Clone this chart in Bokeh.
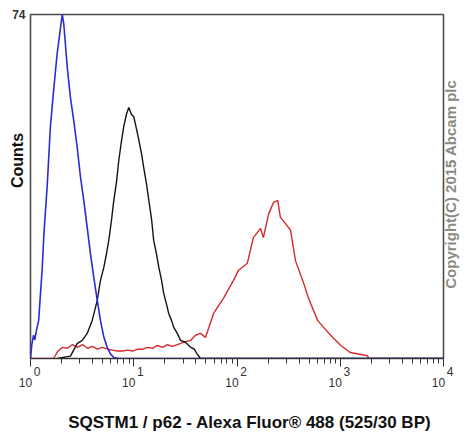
import math
from bokeh.plotting import figure
from bokeh.models import Range1d, FixedTicker, LogAxis, LinearAxis
from bokeh.embed import file_html
from bokeh.resources import INLINE

# ---- data (fluorescence value, counts) ----
blue_x = [1.00, 1.03, 1.07, 1.10, 1.14, 1.20, 1.30, 1.35, 1.45, 1.56, 1.68, 1.81, 1.95, 2.03,
          2.10, 2.27, 2.44, 2.63, 2.83, 3.05, 3.28, 3.54, 3.81, 4.10, 4.43, 4.76, 5.13, 5.53,
          5.95, 6.41, 7.10, 10000]
blue_y = [0, 3.0, 5.0, 4.0, 6.0, 8.2, 19.6, 27, 37, 50, 58, 65.5, 71, 74,
          72, 62.6, 56, 51, 45.5, 39, 34, 28.2, 22.5, 17.5, 12.5, 8.2, 4.6, 2.4,
          1.0, 0.2, 0, 0]

black_x = [1.81, 2.44, 2.83, 3.17, 3.54, 3.96, 4.43, 4.76, 5.13, 5.44, 5.73, 6.09, 6.41, 6.81,
           7.17, 7.61, 8.01, 8.51, 8.96, 9.51, 10.0, 10.6, 11.2, 11.9, 12.5, 13.3, 14.0, 14.9,
           15.6, 16.6, 17.5, 18.6, 19.5, 20.7, 21.8, 23.2, 24.4, 26.4, 28.4, 31.7, 35.5, 38.2,
           41.1, 44.3, 10000]
black_y = [0, 0.5, 3.2, 3.9, 5.4, 8.2, 12.5, 16.8, 19.6, 22.5, 25.4, 29.8, 34, 38,
           42.7, 46.8, 50, 52.6, 54, 52.5, 52, 49.5, 47, 44, 41, 37.5, 34, 29.8,
           25.4, 22.5, 19.6, 16.8, 14, 11.8, 9.7, 8.2, 6.7, 5.4, 3.9, 3.5, 2.4, 2.1,
           1.0, 0, 0]

red_x = [1.00, 1.67, 1.83, 2.04, 2.28, 2.55, 2.85, 3.19, 3.57, 3.98, 4.45, 4.98, 5.57, 6.23,
         6.96, 7.78, 8.70, 9.73, 10.9, 12.2, 13.6, 15.2, 17.0, 19.0, 21.2, 23.7, 26.5, 29.7,
         35.5, 39.6, 44.3, 49.5, 59.3, 74.1, 92.5, 103.6, 126, 144, 169, 180, 202, 226, 248,
         263, 295, 330, 369, 433, 492, 603, 690, 846, 1014, 1248, 1840, 1880, 10000]
red_y = [0, 0, 1.5, 2.4, 2.2, 3.0, 2.4, 3.0, 2.2, 2.6, 2.0, 2.4, 2.0, 1.8,
         1.6, 1.6, 1.8, 1.6, 2.0, 2.0, 2.4, 2.2, 2.8, 2.4, 3.0, 2.6, 3.0, 3.4,
         3.9, 5.0, 5.4, 4.5, 9.7, 13, 16.8, 19, 20.5, 26, 28, 26, 31, 33.6, 34,
         30.4, 29, 27.6, 21, 16.8, 13, 8.2, 6.7, 4.5, 2.8, 1.3, 0.6, 0, 0]

decade_ticks = [1, 10, 100, 1000, 10000]
decade_base = ["10", "10", "10", "10", "10"]
decade_exp = ["0", "1", "2", "3", "4"]
minor_mult = [2, 3, 4, 5, 6, 7, 8, 9]
minor_ticks = [m * d for d in decade_ticks[:-1] for m in minor_mult]

y_max = 74
x_label = "SQSTM1 / p62 - Alexa Fluor\u00ae 488 (525/30 BP)"
y_label = "Counts"
copyright_text = "Copyright(C) 2015 Abcam plc"
copyright_anchor = 15   # count level where the vertical note starts

FONT = "Liberation Sans"
FS = "\u2007"   # figure space (digit wide, not collapsed)
EM = "\u2003"   # em space

p = figure(width=470, height=435, x_axis_type="log",
           x_range=Range1d(1, 10000), y_range=Range1d(0, y_max),
           output_backend="svg", toolbar_location=None,
           min_border_left=30, min_border_right=27, min_border_top=14, min_border_bottom=77)

p.background_fill_color = "white"
p.border_fill_color = "white"
p.xgrid.visible = False
p.ygrid.visible = False
p.outline_line_color = "#4d4d4d"
p.outline_line_width = 1.6

# ---- bottom axis 1: ticks + exponents ----
ax = p.xaxis[0]
ax.ticker = FixedTicker(ticks=decade_ticks, minor_ticks=minor_ticks)
ax.major_tick_in = 0
ax.major_tick_out = 8
ax.minor_tick_in = 0
ax.minor_tick_out = 5
ax.axis_line_color = "#333333"
ax.axis_line_width = 1.2
ax.major_tick_line_color = "#333333"
ax.minor_tick_line_color = "#333333"
ax.major_label_overrides = {t: FS + FS + e for t, e in zip(decade_ticks, decade_exp)}
ax.major_label_standoff = -2
ax.major_label_text_font = FONT
ax.major_label_text_font_size = "12px"
ax.major_label_text_color = "#333333"

# ---- bottom axis 2: the "10" bases and the axis title ----
ax2 = LogAxis(ticker=FixedTicker(ticks=decade_ticks, minor_ticks=[]))
ax2.axis_line_color = None
ax2.major_tick_line_color = None
ax2.minor_tick_line_color = None
ax2.major_tick_out = 0
ax2.major_tick_in = 0
ax2.major_label_overrides = {t: b + FS + "\u2008" for t, b in zip(decade_ticks, decade_base)}
ax2.major_label_standoff = -6
ax2.major_label_text_font = FONT
ax2.major_label_text_font_size = "12px"
ax2.major_label_text_color = "#333333"
ax2.axis_label = EM + "\u2002" + x_label
ax2.axis_label_standoff = 20
ax2.axis_label_text_font = FONT
ax2.axis_label_text_font_size = "17px"
ax2.axis_label_text_font_style = "bold"
ax2.axis_label_text_color = "#111111"
p.add_layout(ax2, "below")

# ---- left axis ----
ay = p.yaxis[0]
ay.ticker = FixedTicker(ticks=[y_max], minor_ticks=[])
ay.axis_line_color = None
ay.major_tick_line_color = None
ay.minor_tick_line_color = None
ay.major_tick_out = 0
ay.major_tick_in = 0
ay.major_label_standoff = 5
ay.major_label_text_font = FONT
ay.major_label_text_font_size = "12px"
ay.major_label_text_font_style = "bold"
ay.major_label_text_color = "#333333"
ay.axis_label = EM + EM + EM + "\u2005" + y_label
ay.axis_label_standoff = -17
ay.axis_label_text_font = FONT
ay.axis_label_text_font_size = "16px"
ay.axis_label_text_font_style = "bold"
ay.axis_label_text_color = "#111111"

# ---- right axis carrying the copyright note ----
ar = LinearAxis(ticker=FixedTicker(ticks=[copyright_anchor], minor_ticks=[]))
ar.axis_line_color = None
ar.major_tick_line_color = None
ar.minor_tick_line_color = None
ar.major_tick_out = 0
ar.major_tick_in = 0
ar.major_label_overrides = {copyright_anchor: copyright_text}
ar.major_label_orientation = math.pi / 2
ar.major_label_standoff = 7
ar.major_label_text_font = FONT
ar.major_label_text_font_size = "15px"
ar.major_label_text_font_style = "bold"
ar.major_label_text_color = "#8a8a80"
p.add_layout(ar, "right")

p.line(red_x, red_y, line_color="#d42a2a", line_width=1.4)
p.line(black_x, black_y, line_color="#141414", line_width=1.4)
p.line(blue_x, blue_y, line_color="#2b2bd6", line_width=1.6)

open("out.html", "w").write(file_html(p, INLINE))
